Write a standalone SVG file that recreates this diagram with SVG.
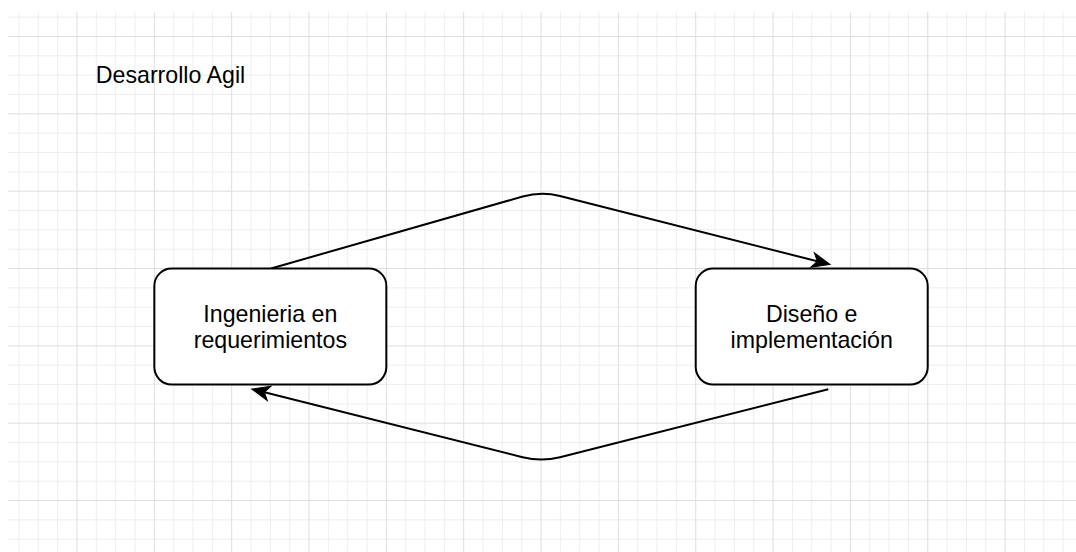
<svg xmlns="http://www.w3.org/2000/svg" width="1076" height="552" viewBox="0 0 1076 552">
  <style>
    .grid-minor { stroke: #eeeeee; stroke-width: 1; fill: none; }
    .grid-major { stroke: #dedede; stroke-width: 1; fill: none; }
    .box { fill: #ffffff; stroke: #000000; stroke-width: 2; }
    .edge { fill: none; stroke: #000000; stroke-width: 2; stroke-linejoin: round; }
    .label { font-family: "Liberation Sans", Arial, Helvetica, sans-serif; font-size: 23.2px; fill: #000000; text-anchor: middle; }
  </style>
  <defs>
    <marker id="arrow" viewBox="-16 -9 22 18" refX="0" refY="0" markerWidth="22" markerHeight="18" markerUnits="userSpaceOnUse" orient="auto">
      <path d="M4 0 L-14 -7.5 L-9 0 L-14 7.5 Z" fill="#000000" stroke="#000000" stroke-width="1" stroke-linejoin="miter"/>
    </marker>
  </defs>

  <rect x="0" y="0" width="1076" height="552" fill="#ffffff"/>

  <!-- background grid: minor lines every 19.335px, major every 4th -->
  <g id="grid">
    <path class="grid-minor" d="M19 12V552M38.33 12V552M57.67 12V552M96.34 12V552M115.67 12V552M135.01 12V552M173.68 12V552M193.01 12V552M212.35 12V552M251.02 12V552M270.35 12V552M289.69 12V552M328.36 12V552M347.69 12V552M367.03 12V552M405.7 12V552M425.03 12V552M444.37 12V552M483.04 12V552M502.37 12V552M521.71 12V552M560.38 12V552M579.71 12V552M599.05 12V552M637.72 12V552M657.05 12V552M676.39 12V552M715.06 12V552M734.39 12V552M753.73 12V552M792.4 12V552M811.73 12V552M831.07 12V552M869.74 12V552M889.07 12V552M908.41 12V552M947.08 12V552M966.41 12V552M985.75 12V552M1024.42 12V552M1043.75 12V552M1063.09 12V552
      M8 17.17H1076M8 55.84H1076M8 75.17H1076M8 94.51H1076M8 133.18H1076M8 152.51H1076M8 171.85H1076M8 210.52H1076M8 229.85H1076M8 249.19H1076M8 287.86H1076M8 307.19H1076M8 326.53H1076M8 365.2H1076M8 384.53H1076M8 403.87H1076M8 442.54H1076M8 461.87H1076M8 481.21H1076M8 519.88H1076M8 539.21H1076"/>
    <path class="grid-major" d="M77 12V552M154.34 12V552M231.68 12V552M309.02 12V552M386.36 12V552M463.7 12V552M541.04 12V552M618.38 12V552M695.72 12V552M773.06 12V552M850.4 12V552M927.74 12V552M1005.08 12V552
      M8 36.5H1076M8 113.84H1076M8 191.18H1076M8 268.52H1076M8 345.86H1076M8 423.2H1076M8 500.54H1076"/>
  </g>

  <g id="title">
    <text class="label" x="170.5" y="82.7">Desarrollo Agil</text>
  </g>

  <!-- connectors -->
  <g id="connectors">
    <path id="edge-top" class="edge" d="M271 268.5 L522.7 196.5 Q541.3 191.2 560 195.95 L826.1 263.5" marker-end="url(#arrow)"/>
    <path id="edge-bottom" class="edge" d="M828.3 389.3 L560 457.2 Q541.3 461.9 522.6 457.2 L255.6 390" marker-end="url(#arrow)"/>
  </g>

  <g id="node-requerimientos">
    <rect class="box" x="154.34" y="268.52" width="232" height="116" rx="17.4" ry="17.4"/>
    <text class="label" x="270.35" y="322">Ingenieria en</text>
    <text class="label" x="270.35" y="348">requerimientos</text>
  </g>

  <g id="node-diseno">
    <rect class="box" x="695.72" y="268.52" width="232" height="116" rx="17.4" ry="17.4"/>
    <text class="label" x="811.72" y="322">Diseño e</text>
    <text class="label" x="811.72" y="348">implementación</text>
  </g>
</svg>
